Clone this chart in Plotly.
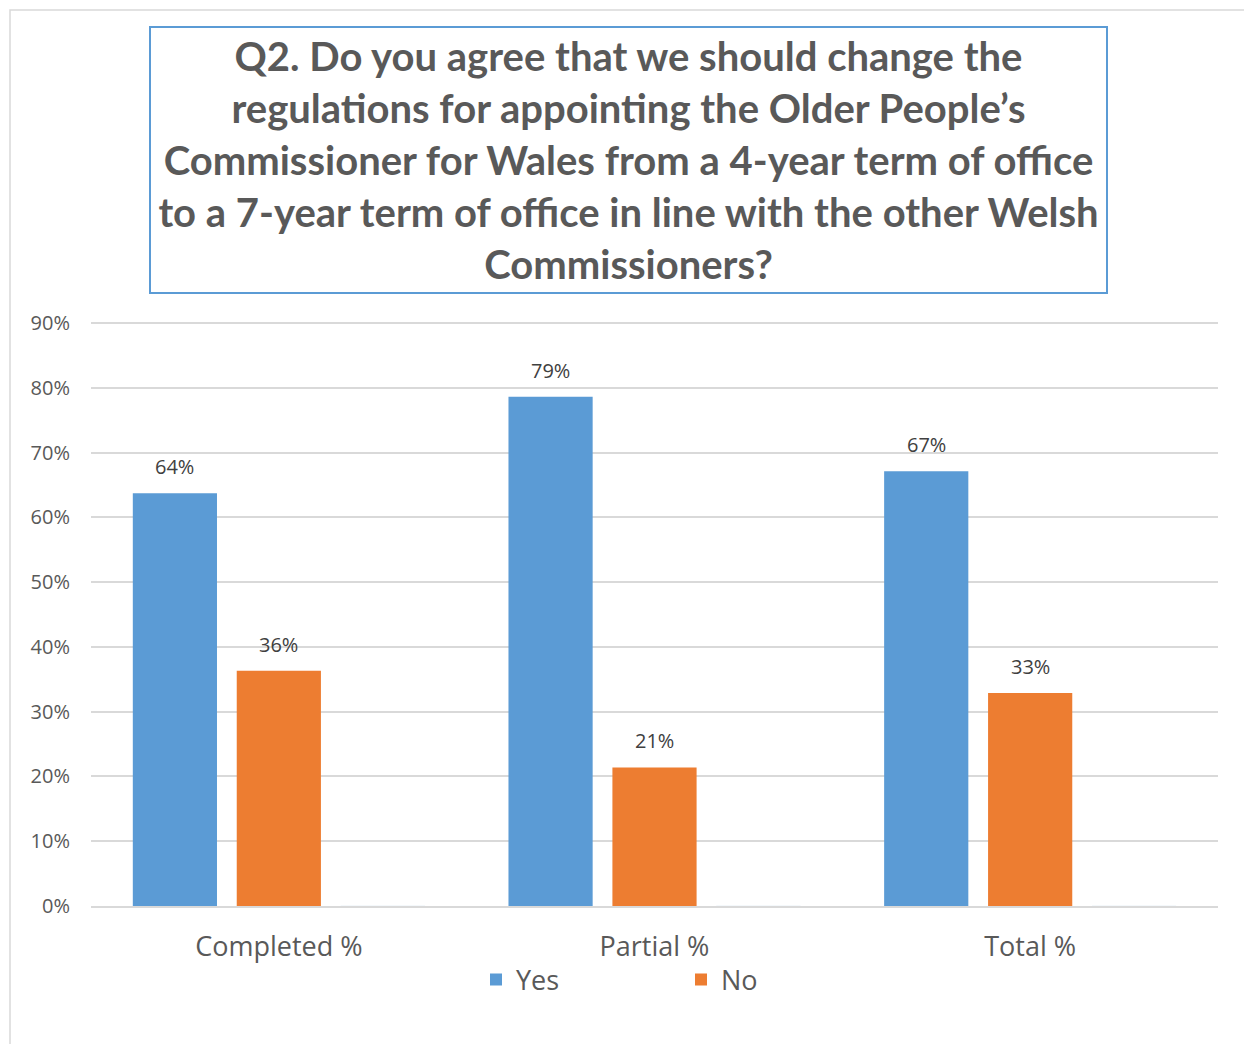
import plotly.graph_objects as go

categories = ["Completed %", "Partial %", "Total %"]
yes_values = [0.637, 0.786, 0.671]
no_values = [0.363, 0.214, 0.329]
hidden_values = [0, 0, 0]
title_text = ("Q2. Do you agree that we should change the<br>"
              "regulations for appointing the Older People’s<br>"
              "Commissioner for Wales from a 4-year term of office<br>"
              "to a 7-year term of office in line with the other Welsh<br>"
              "Commissioners?")

W, H = 1244, 1044
L, R, T, B = 91, 26, 321, 138
pw, ph = W - L - R, H - T - B

def px_x(p):
    return (p - L) / pw

def px_y(p):
    return (H - B - p) / ph

label_font = dict(family="Open Sans", size=20, color="#404040")

fig = go.Figure()
fig.add_trace(go.Bar(x=categories, y=yes_values, name="Yes",
                     marker=dict(color="#5B9BD5", line=dict(width=0))))
fig.add_trace(go.Bar(x=categories, y=no_values, name="No",
                     marker=dict(color="#ED7D31", line=dict(width=0))))
fig.add_trace(go.Bar(x=categories, y=hidden_values, name="",
                     marker=dict(color="rgba(0,0,0,0)"), showlegend=False,
                     hoverinfo="skip"))

# data labels, placed from the data values (slot offsets within each group)
slot_px = 104
for series, shift in ((yes_values, -slot_px), (no_values, 0)):
    for cat, val in zip(categories, series):
        fig.add_annotation(x=cat, y=val, xref="x", yref="y",
                           text=f"{val:.0%}", showarrow=False,
                           xshift=shift, yshift=11, yanchor="bottom",
                           font=label_font)

ymax = 0.9 * ph / (ph - 2)

fig.update_layout(
    width=W, height=H,
    margin=dict(l=L, r=R, t=T, b=B, autoexpand=False),
    paper_bgcolor="white", plot_bgcolor="white",
    barmode="group", bargap=0.17, bargroupgap=0.19,
    font=dict(family="Open Sans", color="#595959"),
    showlegend=True,
    legend=dict(orientation="h", x=px_x(681), xanchor="center",
                y=px_y(980), yanchor="middle",
                font=dict(family="Open Sans", size=27, color="#595959"),
                entrywidth=160, entrywidthmode="pixels",
                bgcolor="rgba(0,0,0,0)"),
    xaxis=dict(showgrid=False, showline=True, linecolor="#D9D9D9", linewidth=2,
               ticks="", tickfont=dict(family="Open Sans", size=27, color="#595959"),
               ticklabelstandoff=16),
    yaxis=dict(range=[0, ymax], tickvals=[0, 0.1, 0.2, 0.3, 0.4, 0.5, 0.6, 0.7, 0.8, 0.9],
               tickformat=".0%",
               showgrid=True, gridcolor="#D9D9D9", gridwidth=1.5,
               zeroline=False, showline=False, ticks="",
               tickfont=dict(family="Open Sans", size=20, color="#595959"),
               ticklabelstandoff=20),
)

# outer chart border
fig.add_shape(type="rect", xref="paper", yref="paper",
              x0=px_x(10), x1=px_x(1260), y0=px_y(1060), y1=px_y(10),
              line=dict(color="#D9D9D9", width=1.5), fillcolor="rgba(0,0,0,0)",
              layer="below")

# title box
fig.add_annotation(xref="paper", yref="paper", x=px_x(628.5), y=px_y(26),
                   xanchor="center", yanchor="top", showarrow=False,
                   text=title_text, align="center", valign="middle",
                   width=955, height=264, borderpad=0,
                   bordercolor="#5B9BD5", borderwidth=2,
                   font=dict(family="Lato", size=40, color="#595959", weight="bold"))

fig.write_html("out.html")
